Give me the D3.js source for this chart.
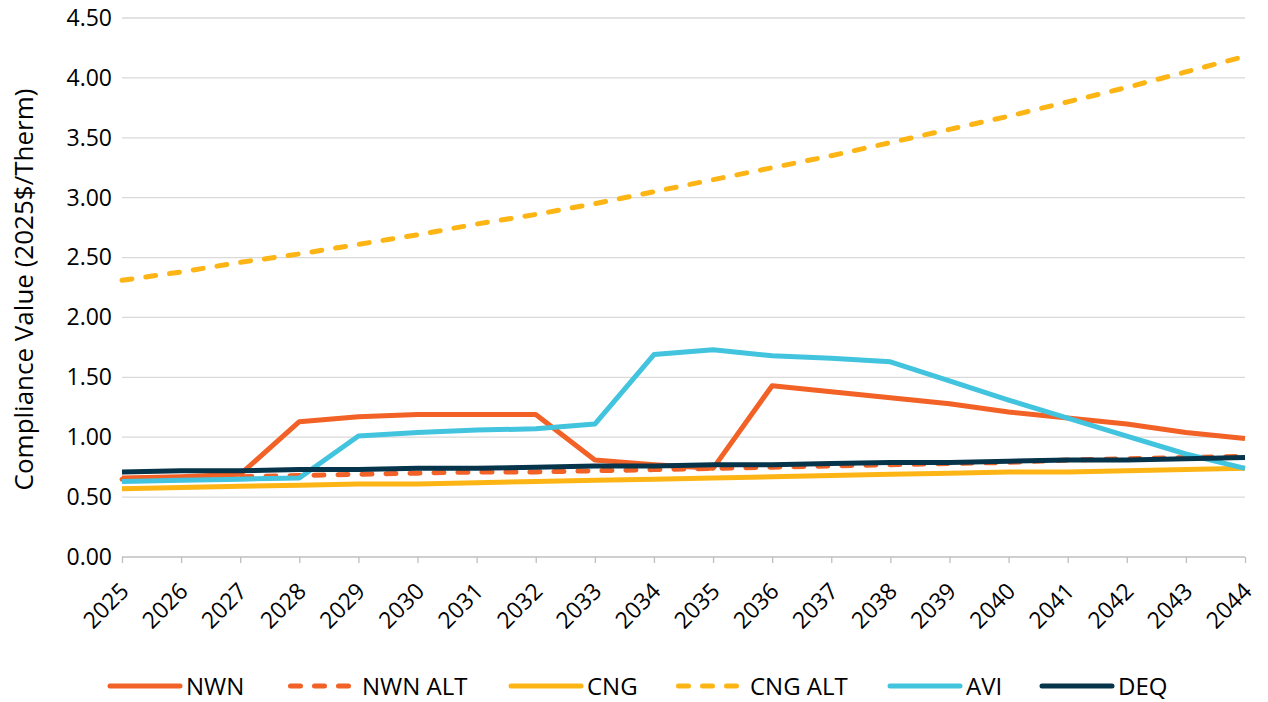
<!DOCTYPE html>
<html>
<head>
<meta charset="utf-8">
<script src="https://cdn.jsdelivr.net/npm/d3@7"></script>
<style>
  html, body { margin: 0; padding: 0; background: #fff; }
  svg { display: block; font-family: "Open Sans", Lato, "Liberation Sans", sans-serif; }
</style>
</head>
<body>
<svg id="chart" width="1268" height="702"></svg>
<script>
// Years on the x axis
const years = [2025, 2026, 2027, 2028, 2029, 2030, 2031, 2032, 2033, 2034,
               2035, 2036, 2037, 2038, 2039, 2040, 2041, 2042, 2043, 2044];

// Compliance value per series (2025$/Therm)
const nwn    = [0.66, 0.67, 0.69, 1.13, 1.17, 1.19, 1.19, 1.19, 0.81, 0.77,
                0.74, 1.43, 1.38, 1.33, 1.28, 1.21, 1.16, 1.11, 1.04, 0.99];
const nwnAlt = [0.65, 0.66, 0.67, 0.68, 0.69, 0.70, 0.71, 0.71, 0.72, 0.73,
                0.74, 0.75, 0.76, 0.77, 0.78, 0.79, 0.81, 0.82, 0.83, 0.84];
const cng    = [0.57, 0.58, 0.59, 0.60, 0.61, 0.61, 0.62, 0.63, 0.64, 0.65,
                0.66, 0.67, 0.68, 0.69, 0.70, 0.71, 0.71, 0.72, 0.73, 0.74];
const cngAlt = [2.31, 2.38, 2.46, 2.53, 2.61, 2.69, 2.78, 2.86, 2.95, 3.05,
                3.15, 3.25, 3.35, 3.46, 3.57, 3.68, 3.80, 3.92, 4.05, 4.18];
const avi    = [0.63, 0.64, 0.65, 0.66, 1.01, 1.04, 1.06, 1.07, 1.11, 1.69,
                1.73, 1.68, 1.66, 1.63, 1.47, 1.31, 1.16, 1.01, 0.86, 0.74];
const deq    = [0.71, 0.72, 0.72, 0.73, 0.73, 0.74, 0.74, 0.75, 0.76, 0.76,
                0.77, 0.77, 0.78, 0.79, 0.79, 0.80, 0.81, 0.81, 0.82, 0.83];

const yTicks = [0, 0.5, 1, 1.5, 2, 2.5, 3, 3.5, 4, 4.5];

const series = [
  { name: "NWN",     values: nwn,    color: "#F26125", dashed: false },
  { name: "NWN ALT", values: nwnAlt, color: "#F26125", dashed: true  },
  { name: "CNG",     values: cng,    color: "#FDB515", dashed: false },
  { name: "CNG ALT", values: cngAlt, color: "#FDB515", dashed: true  },
  { name: "AVI",     values: avi,    color: "#42C3DE", dashed: false },
  { name: "DEQ",     values: deq,    color: "#06344A", dashed: false }
];

const svg = d3.select("#chart");
const plotLeft = 122, plotRight = 1245, plotTop = 18, plotBottom = 557;
const font = "'Open Sans', Lato, sans-serif";

const x = d3.scalePoint().domain(years).range([plotLeft, plotRight]);
const y = d3.scaleLinear().domain([0, 4.5]).range([plotBottom, plotTop]);

// Horizontal gridlines
svg.append("g")
  .selectAll("line")
  .data(yTicks.filter(d => d > 0))
  .join("line")
  .attr("x1", plotLeft).attr("x2", plotRight)
  .attr("y1", d => y(d)).attr("y2", d => y(d))
  .attr("stroke", "#d9d9d9").attr("stroke-width", 1.3);

// Y axis labels
const yAxis = svg.append("g")
  .attr("transform", `translate(${plotLeft},0)`)
  .call(d3.axisLeft(y).tickValues(yTicks).tickFormat(d3.format(".2f")).tickSize(0).tickPadding(10));
yAxis.select(".domain").remove();
yAxis.selectAll("text").attr("font-size", 23).attr("fill", "#000")
  .style("font-family", font);

// X axis with tick marks and rotated year labels
const xAxis = svg.append("g")
  .attr("transform", `translate(0,${plotBottom})`)
  .call(d3.axisBottom(x).tickSizeInner(6).tickSizeOuter(0));
xAxis.select(".domain").attr("stroke", "#bfbfbf").attr("stroke-width", 1.3)
  .attr("d", `M${plotLeft},0H${plotRight}`);
xAxis.selectAll(".tick line").attr("stroke", "#bfbfbf").attr("stroke-width", 1.3);
xAxis.selectAll("text")
  .attr("font-size", 23).attr("fill", "#000")
  .style("font-family", font)
  .attr("text-anchor", "end")
  .attr("x", 0).attr("y", 0).attr("dy", "0.35em")
  .attr("transform", "translate(2,30) rotate(-45)");

// Y axis title
svg.append("text")
  .attr("transform", `translate(33,${(plotTop + plotBottom) / 2 + 2}) rotate(-90)`)
  .attr("text-anchor", "middle")
  .attr("font-size", 26).attr("fill", "#000")
  .style("font-family", font)
  .text("Compliance Value (2025$/Therm)");

// Series lines
const line = d3.line().x((d, i) => x(years[i])).y(d => y(d));
svg.append("g")
  .selectAll("path")
  .data(series)
  .join("path")
  .attr("d", d => line(d.values))
  .attr("fill", "none")
  .attr("stroke", d => d.color)
  .attr("stroke-width", 5)
  .attr("stroke-linejoin", "round")
  .attr("stroke-linecap", d => d.dashed ? "round" : "butt")
  .attr("stroke-dasharray", d => d.dashed ? "10,14" : null);

// Legend: swatch start for each entry
const legendX = [110, 288, 511, 676, 890, 1042];
const legend = svg.append("g").selectAll("g")
  .data(series)
  .join("g")
  .attr("transform", (d, i) => `translate(${legendX[i]},686)`);
legend.append("line")
  .attr("x1", d => d.dashed ? 2.5 : 0)
  .attr("x2", d => d.dashed ? 60.5 : 70)
  .attr("y1", 0).attr("y2", 0)
  .attr("stroke", d => d.color).attr("stroke-width", 5)
  .attr("stroke-linecap", "round")
  .attr("stroke-dasharray", d => d.dashed ? "10,14" : null);
legend.append("text")
  .attr("x", d => d.dashed ? 74 : 76).attr("y", 0).attr("dy", "0.36em")
  .attr("font-size", 24).attr("fill", "#000")
  .style("font-family", font)
  .text(d => d.name);
</script>
</body>
</html>
